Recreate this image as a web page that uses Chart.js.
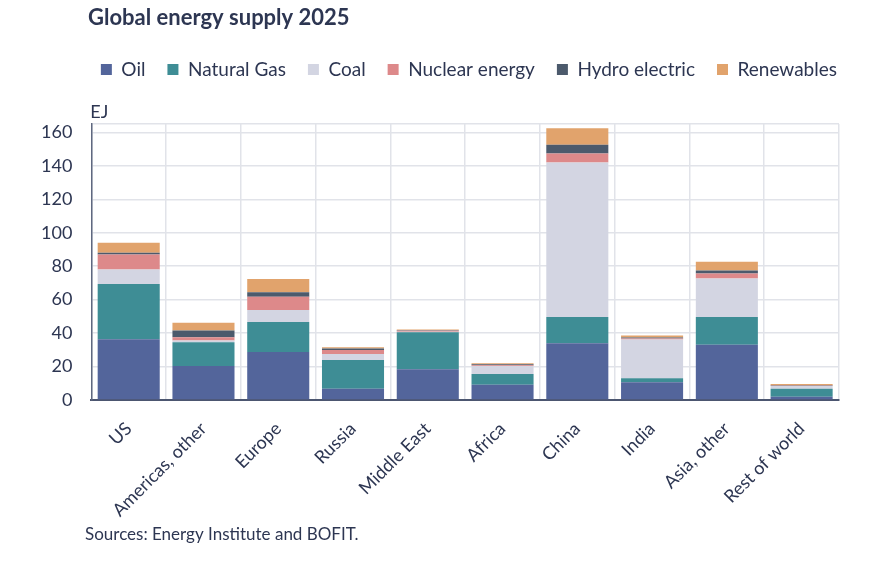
<!DOCTYPE html>
<html>
<head>
<meta charset="utf-8">
<script src="https://cdn.jsdelivr.net/npm/chart.js@4"></script>
<style>
  html, body { margin:0; padding:0; background:#fff; }
  #wrap { width:883px; height:561px; position:relative; }
</style>
</head>
<body>
<div id="wrap"><canvas id="grafico"></canvas></div>
<script>
// data, EJ
var regiones = ["US","Americas, other","Europe","Russia","Middle East","Africa","China","India","Asia, other","Rest of world"];
var oil        = [36.4, 20.4, 28.8,  6.8, 18.4, 9.2, 34.0, 10.6, 33.0, 2.0];
var naturalGas = [33.0, 14.2, 17.8, 17.2, 22.2, 6.4, 15.6,  2.4, 16.6, 4.8];
var coal       = [ 8.6,  1.0,  7.2,  3.6,  0.2, 4.8, 92.4, 23.2, 23.0, 1.6];
var nuclear    = [ 9.0,  2.0,  8.0,  2.4,  0.6, 0.4,  5.4,  0.6,  3.0, 0.2];
var hydro      = [ 1.0,  4.0,  2.6,  0.8,  0.3, 0.6,  5.2,  0.6,  1.8, 0.2];
var renewables = [ 6.0,  4.6,  8.0,  0.8,  0.5, 0.6,  9.8,  1.2,  5.2, 0.8];
var yTicks = [0, 20, 40, 60, 80, 100, 120, 140, 160];
var yMax = 165;

var colorTexto = "#2d3652";
var fuente = "Lato, 'Open Sans', sans-serif";

var series = [
  {label:"Oil", data:oil, color:"#53659b"},
  {label:"Natural Gas", data:naturalGas, color:"#3e8d95"},
  {label:"Coal", data:coal, color:"#d3d5e2"},
  {label:"Nuclear energy", data:nuclear, color:"#dd898a"},
  {label:"Hydro electric", data:hydro, color:"#4c5a6c"},
  {label:"Renewables", data:renewables, color:"#e1a36c"}
];

// title, unit and source drawn on the canvas
var textos = {
  id: "textos",
  beforeInit: function(chart){
    var lg = chart.legend;
    var fitOrig = lg.fit;
    lg.fit = function(){
      fitOrig.call(lg);
      lg.height += 35; // room for the "EJ" label under the legend
    };
  },
  afterLayout: function(chart){
    // legend ends at the right edge of the plot
    chart.legend.right = chart.chartArea.right + chart.legend.options.labels.padding - 2;
  },
  afterDraw: function(chart){
    var ctx = chart.ctx;
    ctx.save();
    ctx.fillStyle = colorTexto;
    ctx.textAlign = "left";
    ctx.textBaseline = "middle";
    ctx.font = "bold 22px " + fuente;
    ctx.fillText("Global energy supply 2025", 88, 18);
    ctx.font = "18px " + fuente;
    ctx.fillText("EJ", chart.chartArea.left - 1, 112);
    ctx.font = "17px " + fuente;
    ctx.fillText("Sources: Energy Institute and BOFIT.", 85, 535);
    ctx.restore();
  }
};

var ctx = document.getElementById("grafico").getContext("2d");
var chart = new Chart(ctx, {
  type: "bar",
  data: {
    labels: regiones,
    datasets: series.map(function(s){
      return {label:s.label, data:s.data, backgroundColor:s.color, borderWidth:0,
              categoryPercentage:1, barPercentage:0.83};
    })
  },
  options: {
    responsive: true,
    maintainAspectRatio: false,
    animation: false,
    layout: { padding: {top:38, left:22, right:44, bottom:22} },
    plugins: {
      title: { display:false },
      tooltip: { enabled:false },
      legend: {
        display: true,
        align: "end",
        labels: {
          color: colorTexto,
          font: {family:fuente, size:19},
          boxWidth: 11,
          boxHeight: 11,
          padding: 22
        }
      }
    },
    scales: {
      x: {
        stacked: true,
        grid: { color:"#e1e3e9", lineWidth:1.5, drawTicks:false, offset:true },
        border: { color:"#4c5670", width:2 },
        ticks: { color:colorTexto, font:{family:fuente, size:18}, minRotation:45, maxRotation:45, padding:18, autoSkip:false }
      },
      y: {
        stacked: true,
        min: 0,
        max: yMax,
        afterBuildTicks: function(axis){
          axis.ticks = yTicks.concat([yMax]).map(function(v){ return {value:v}; });
        },
        grid: { color:"#e1e3e9", lineWidth:1.5, drawTicks:false },
        border: { color:"#5f6880", width:1.5 },
        ticks: {
          color: colorTexto, font:{family:fuente, size:18}, padding:19, autoSkip:false,
          callback: function(v){ return v === yMax ? "" : v; }
        }
      }
    }
  },
  plugins: [textos]
});
</script>
</body>
</html>
